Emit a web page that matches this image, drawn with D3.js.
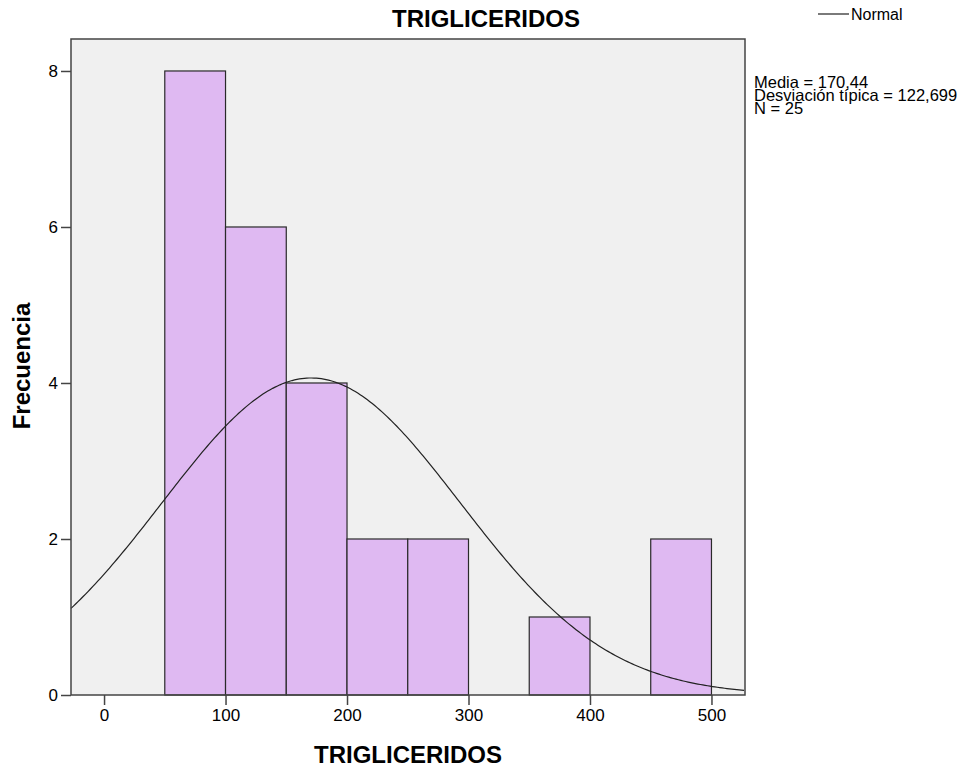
<!DOCTYPE html>
<html>
<head>
<meta charset="utf-8">
<script src="https://cdn.jsdelivr.net/npm/d3@7"></script>
<style>
  body { margin: 0; background: #fff; }
  text { font-family: "Liberation Sans", Arial, sans-serif; fill: #000; }
</style>
</head>
<body>
<svg width="973" height="767"></svg>
<script>
// bins of TRIGLICERIDOS (lower edge, upper edge) and counts
var binStart = [50, 100, 150, 200, 250, 300, 350, 400, 450]
var binEnd = [100, 150, 200, 250, 300, 350, 400, 450, 500]
var counts = [8, 6, 4, 2, 2, 0, 1, 0, 2]
var xTicks = [0, 100, 200, 300, 400, 500]
var yTicks = [0, 2, 4, 6, 8]
var media = 170.44
var sd = 122.699
var n = 25
var statLines = ['Media = 170,44', 'Desviación típica = 122,699', 'N = 25']

var margin = {top: 39, right: 228, bottom: 72, left: 71}
var width = 973 - margin.left - margin.right
var height = 767 - margin.top - margin.bottom

var x = d3.scaleLinear().domain([-27.2, 527.6]).range([0, width])
var y = d3.scaleLinear().domain([0, 8.41]).range([height, 0])

var svg = d3.select('svg')

var group = svg.append('g')
  .attr('transform', 'translate(' + margin.left + ',' + margin.top + ')')

group.append('rect')
  .attr('width', width)
  .attr('height', height)
  .attr('fill', '#f0f0f0')

var bars = binStart.map(function (s, i) {
  return {x0: s, x1: binEnd[i], count: counts[i]}
}).filter(function (d) { return d.count > 0 })

group.selectAll('.bar')
  .data(bars)
  .enter()
  .append('rect')
  .attr('class', 'bar')
  .attr('x', function (d) { return x(d.x0) })
  .attr('y', function (d) { return y(d.count) })
  .attr('width', function (d) { return x(d.x1) - x(d.x0) })
  .attr('height', function (d) { return height - y(d.count) })
  .attr('fill', '#dfb9f2')
  .attr('stroke', '#2a2a2a')
  .attr('stroke-width', 1.2)

// normal curve scaled to counts
var binWidth = 50
var scaleK = n * binWidth / (sd * Math.sqrt(2 * Math.PI))
var curve = d3.range(-27.2, 527.7, 2).map(function (v) {
  var z = (v - media) / sd
  return [v, scaleK * Math.exp(-0.5 * z * z)]
})

group.append('path')
  .datum(curve)
  .attr('fill', 'none')
  .attr('stroke', '#222')
  .attr('stroke-width', 1.2)
  .attr('d', d3.line()
    .x(function (d) { return x(d[0]) })
    .y(function (d) { return y(d[1]) }))

// frame
group.append('rect')
  .attr('width', width)
  .attr('height', height)
  .attr('fill', 'none')
  .attr('stroke', '#444')
  .attr('stroke-width', 1.5)

var xAxis = group.append('g')
  .attr('class', 'axis axis-x')
  .attr('transform', 'translate(0,' + height + ')')
  .call(d3.axisBottom(x).tickValues(xTicks).tickSize(10).tickPadding(4))
xAxis.select('.domain').remove()

var yAxis = group.append('g')
  .attr('class', 'axis axis-y')
  .call(d3.axisLeft(y).tickValues(yTicks).tickSize(10).tickPadding(3))
yAxis.select('.domain').remove()

svg.selectAll('.axis line').attr('stroke', '#444').attr('stroke-width', 1.5)
svg.selectAll('.axis text')
  .style('font-family', '"Liberation Sans", Arial, sans-serif')
  .style('font-size', '17px')
  .attr('fill', '#000')

// titles
svg.append('text')
  .attr('x', 486)
  .attr('y', 27)
  .attr('text-anchor', 'middle')
  .style('font-size', '24px')
  .style('font-weight', 'bold')
  .text('TRIGLICERIDOS')

svg.append('text')
  .attr('x', 408)
  .attr('y', 763)
  .attr('text-anchor', 'middle')
  .style('font-size', '24px')
  .style('font-weight', 'bold')
  .text('TRIGLICERIDOS')

svg.append('text')
  .attr('transform', 'translate(30,366) rotate(-90)')
  .attr('text-anchor', 'middle')
  .style('font-size', '24px')
  .style('font-weight', 'bold')
  .text('Frecuencia')

// legend
svg.append('line')
  .attr('x1', 818).attr('x2', 849)
  .attr('y1', 14).attr('y2', 14)
  .attr('stroke', '#222')
  .attr('stroke-width', 1.2)

svg.append('text')
  .attr('x', 851)
  .attr('y', 20)
  .style('font-size', '16px')
  .text('Normal')

svg.append('g')
  .selectAll('text')
  .data(statLines)
  .enter()
  .append('text')
  .attr('x', 754)
  .attr('y', function (d, i) { return 88 + i * 13 })
  .style('font-size', '16.5px')
  .text(function (d) { return d })
</script>
</body>
</html>
